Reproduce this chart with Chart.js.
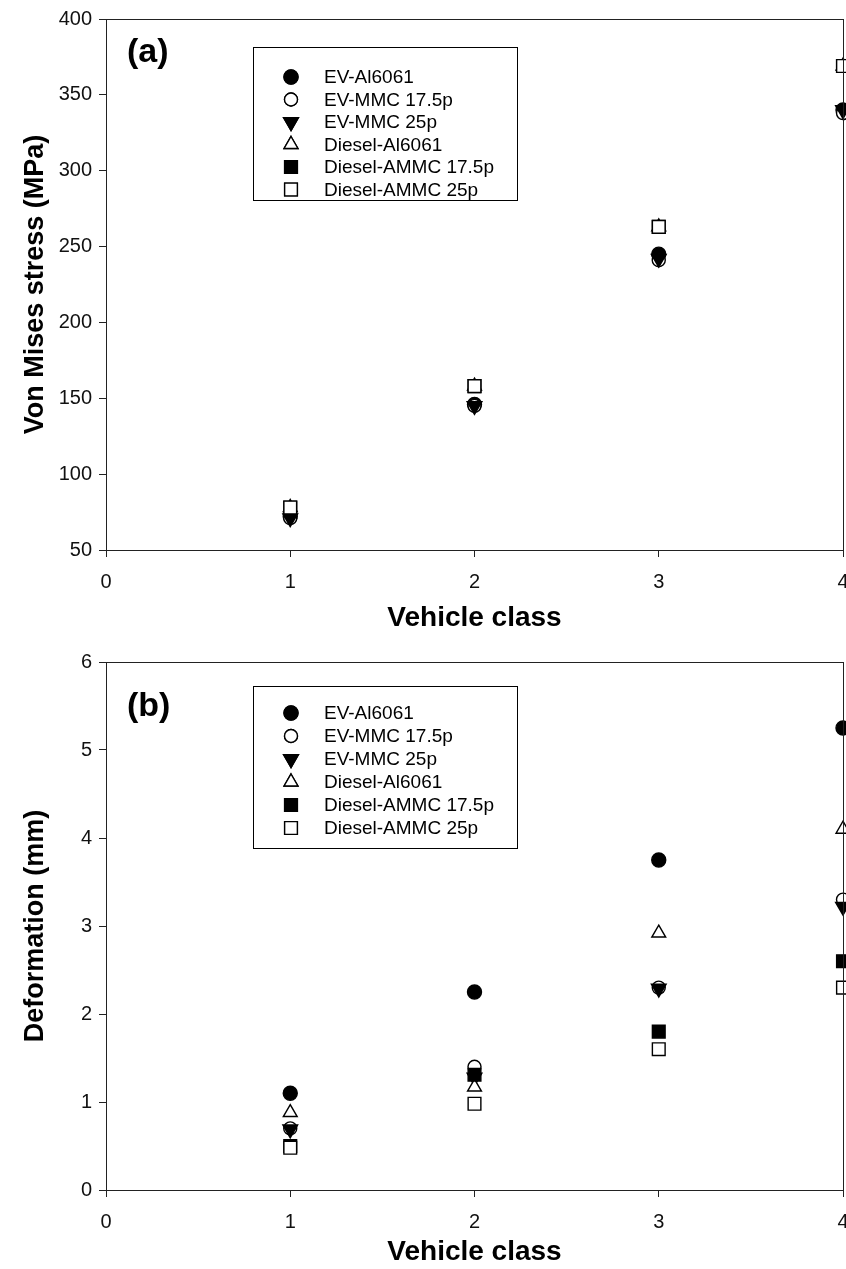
<!DOCTYPE html>
<html>
<head>
<meta charset="utf-8">
<script src="https://cdn.jsdelivr.net/npm/chart.js@4"></script>
<style>
html, body { margin: 0; padding: 0; background: #fff; }
#wrap { position: relative; width: 846px; height: 1269px; }
.panel { position: absolute; left: 0; width: 846px; }
</style>
</head>
<body>
<div id="wrap">
    <div class="panel" style="top:0;height:635px"><canvas id="stressChart" width="846" height="635"></canvas></div>
    <div class="panel" style="top:635px;height:634px"><canvas id="deformChart" width="846" height="634"></canvas></div>
</div>
<script>
// Data
const vehicleClass = [1, 2, 3, 4];
const seriesNames = ['EV-Al6061', 'EV-MMC 17.5p', 'EV-MMC 25p', 'Diesel-Al6061', 'Diesel-AMMC 17.5p', 'Diesel-AMMC 25p'];

// (a) Von Mises stress, MPa
const stressEvAl6061 = [72, 146, 245, 340];
const stressEvMmc175 = [71, 145, 241, 338];
const stressEvMmc25 = [71, 145, 242, 340];
const stressDieselAl6061 = [78, 158, 263, 369];
const stressDieselAmmc175 = [78, 158, 263, 369];
const stressDieselAmmc25 = [78, 158, 263, 369];

// (b) Deformation, mm
const deformEvAl6061 = [1.10, 2.25, 3.75, 5.25];
const deformEvMmc175 = [0.70, 1.40, 2.30, 3.30];
const deformEvMmc25 = [0.69, 1.28, 2.29, 3.22];
const deformDieselAl6061 = [0.88, 1.17, 2.92, 4.10];
const deformDieselAmmc175 = [0.50, 1.31, 1.80, 2.60];
const deformDieselAmmc25 = [0.48, 0.98, 1.60, 2.30];

const xTicks = [0, 1, 2, 3, 4];
const stressTicks = [50, 100, 150, 200, 250, 300, 350, 400];
const deformTicks = [0, 1, 2, 3, 4, 5, 6];

// Marker look for each series (SigmaPlot style symbols)
const markers = [
    { pointStyle: 'circle', radius: 7, fill: '#000', rotation: 0 },
    { pointStyle: 'circle', radius: 6.5, fill: '#fff', rotation: 0 },
    { pointStyle: 'triangle', radius: 8.5, fill: '#000', rotation: 180 },
    { pointStyle: 'triangle', radius: 8, fill: '#fff', rotation: 0 },
    { pointStyle: 'rect', radius: 9, fill: '#000', rotation: 0 },
    { pointStyle: 'rect', radius: 9, fill: '#fff', rotation: 0 },
];

const FONT = '"Liberation Sans", Arial, Helvetica, sans-serif';

function buildDatasets(seriesList) {
    return seriesList.map((values, i) => ({
        label: seriesNames[i],
        data: values.map((v, k) => ({ x: vehicleClass[k], y: v })),
        pointStyle: markers[i].pointStyle,
        pointRadius: markers[i].radius,
        pointHoverRadius: markers[i].radius,
        pointRotation: markers[i].rotation,
        backgroundColor: markers[i].fill,
        borderColor: '#000',
        borderWidth: 1.4,
        showLine: false,
        clip: false,
        order: seriesList.length - i, // later series drawn on top
    }));
}

// Frame, panel letter and boxed legend drawn on top of the points
const decorPlugin = {
    id: 'decor',
    afterDatasetsDraw(chart, args, opts) {
        const ctx = chart.ctx;
        const area = chart.chartArea;
        ctx.save();
        ctx.strokeStyle = '#222';
        ctx.lineWidth = 1;
        ctx.strokeRect(Math.round(area.left) + 0.5, Math.round(area.top) + 0.5,
            Math.round(area.right - area.left), Math.round(area.bottom - area.top));

        // panel letter
        ctx.fillStyle = '#000';
        ctx.font = 'bold 34px ' + FONT;
        ctx.textBaseline = 'middle';
        ctx.textAlign = 'left';
        ctx.fillText(opts.letter, 127, opts.letterY);

        // legend box
        const lg = opts.legend;
        ctx.strokeStyle = '#000';
        ctx.strokeRect(lg.left + 0.5, lg.top + 0.5, lg.right - lg.left, lg.bottom - lg.top);
        ctx.font = '19px ' + FONT;
        chart.data.datasets.forEach((ds, i) => {
            const y = lg.firstRow + i * lg.rowGap;
            ctx.fillStyle = ds.backgroundColor;
            ctx.strokeStyle = '#000';
            ctx.lineWidth = 1.4;
            Chart.helpers.drawPoint(ctx, {
                pointStyle: ds.pointStyle,
                radius: ds.pointRadius,
                rotation: ds.pointRotation,
                borderWidth: 1.4,
            }, lg.markerX, y);
            ctx.fill();
            ctx.stroke();
            ctx.fillStyle = '#000';
            ctx.fillText(ds.label, lg.textX, y + 1);
        });
        ctx.restore();
    }
};

function makeChart(canvasId, datasets, yTicks, yTitle, plotTop, plotBottom, canvasH, decor) {
    const ctx = document.getElementById(canvasId).getContext('2d');
    return new Chart(ctx, {
        type: 'scatter',
        data: { datasets: datasets },
        plugins: [decorPlugin],
        options: {
            responsive: false,
            animation: false,
            events: [],
            layout: { autoPadding: false, padding: { left: 0, top: plotTop, right: 3, bottom: 0 } },
            plugins: {
                legend: { display: false },
                tooltip: { enabled: false },
                decor: decor,
            },
            scales: {
                x: {
                    type: 'linear',
                    min: xTicks[0],
                    max: xTicks[xTicks.length - 1],
                    afterBuildTicks: (axis) => { axis.ticks = xTicks.map(v => ({ value: v })); },
                    afterFit: (axis) => {
                        axis.height = canvasH - plotBottom;
                        axis.paddingLeft = 0;
                        axis.paddingRight = 0;
                    },
                    grid: { drawOnChartArea: false, drawTicks: true, tickLength: 7, color: '#222' },
                    border: { display: true, color: '#222', width: 1 },
                    ticks: { color: '#111', font: { family: FONT, size: 20 }, padding: 13, maxRotation: 0 },
                    title: {
                        display: true, text: 'Vehicle class', color: '#000',
                        font: { family: FONT, size: 28, weight: 'bold' },
                        padding: { top: 0, bottom: 0 },
                    },
                },
                y: {
                    type: 'linear',
                    min: yTicks[0],
                    max: yTicks[yTicks.length - 1],
                    afterBuildTicks: (axis) => { axis.ticks = yTicks.map(v => ({ value: v })); },
                    afterFit: (axis) => {
                        axis.width = 106;
                        axis.paddingTop = 0;
                        axis.paddingBottom = 0;
                    },
                    grid: { drawOnChartArea: false, drawTicks: true, tickLength: 7, color: '#222' },
                    border: { display: true, color: '#222', width: 1 },
                    ticks: { color: '#111', font: { family: FONT, size: 20 }, padding: 7 },
                    title: {
                        display: true, text: yTitle, color: '#000',
                        font: { family: FONT, size: 27, weight: 'bold' },
                        padding: { top: 19, bottom: 0 },
                    },
                },
            },
        },
    });
}

makeChart('stressChart',
    buildDatasets([stressEvAl6061, stressEvMmc175, stressEvMmc25, stressDieselAl6061, stressDieselAmmc175, stressDieselAmmc25]),
    stressTicks, 'Von Mises stress (MPa)', 19, 550, 635,
    { letter: '(a)', letterY: 53,
      legend: { left: 253, right: 517, top: 47, bottom: 200, firstRow: 77, rowGap: 22.5, markerX: 291, textX: 324 } });

makeChart('deformChart',
    buildDatasets([deformEvAl6061, deformEvMmc175, deformEvMmc25, deformDieselAl6061, deformDieselAmmc175, deformDieselAmmc25]),
    deformTicks, 'Deformation (mm)', 27, 555, 634,
    { letter: '(b)', letterY: 72,
      legend: { left: 253, right: 517, top: 51, bottom: 213, firstRow: 78, rowGap: 23, markerX: 291, textX: 324 } });
</script>
</body>
</html>
